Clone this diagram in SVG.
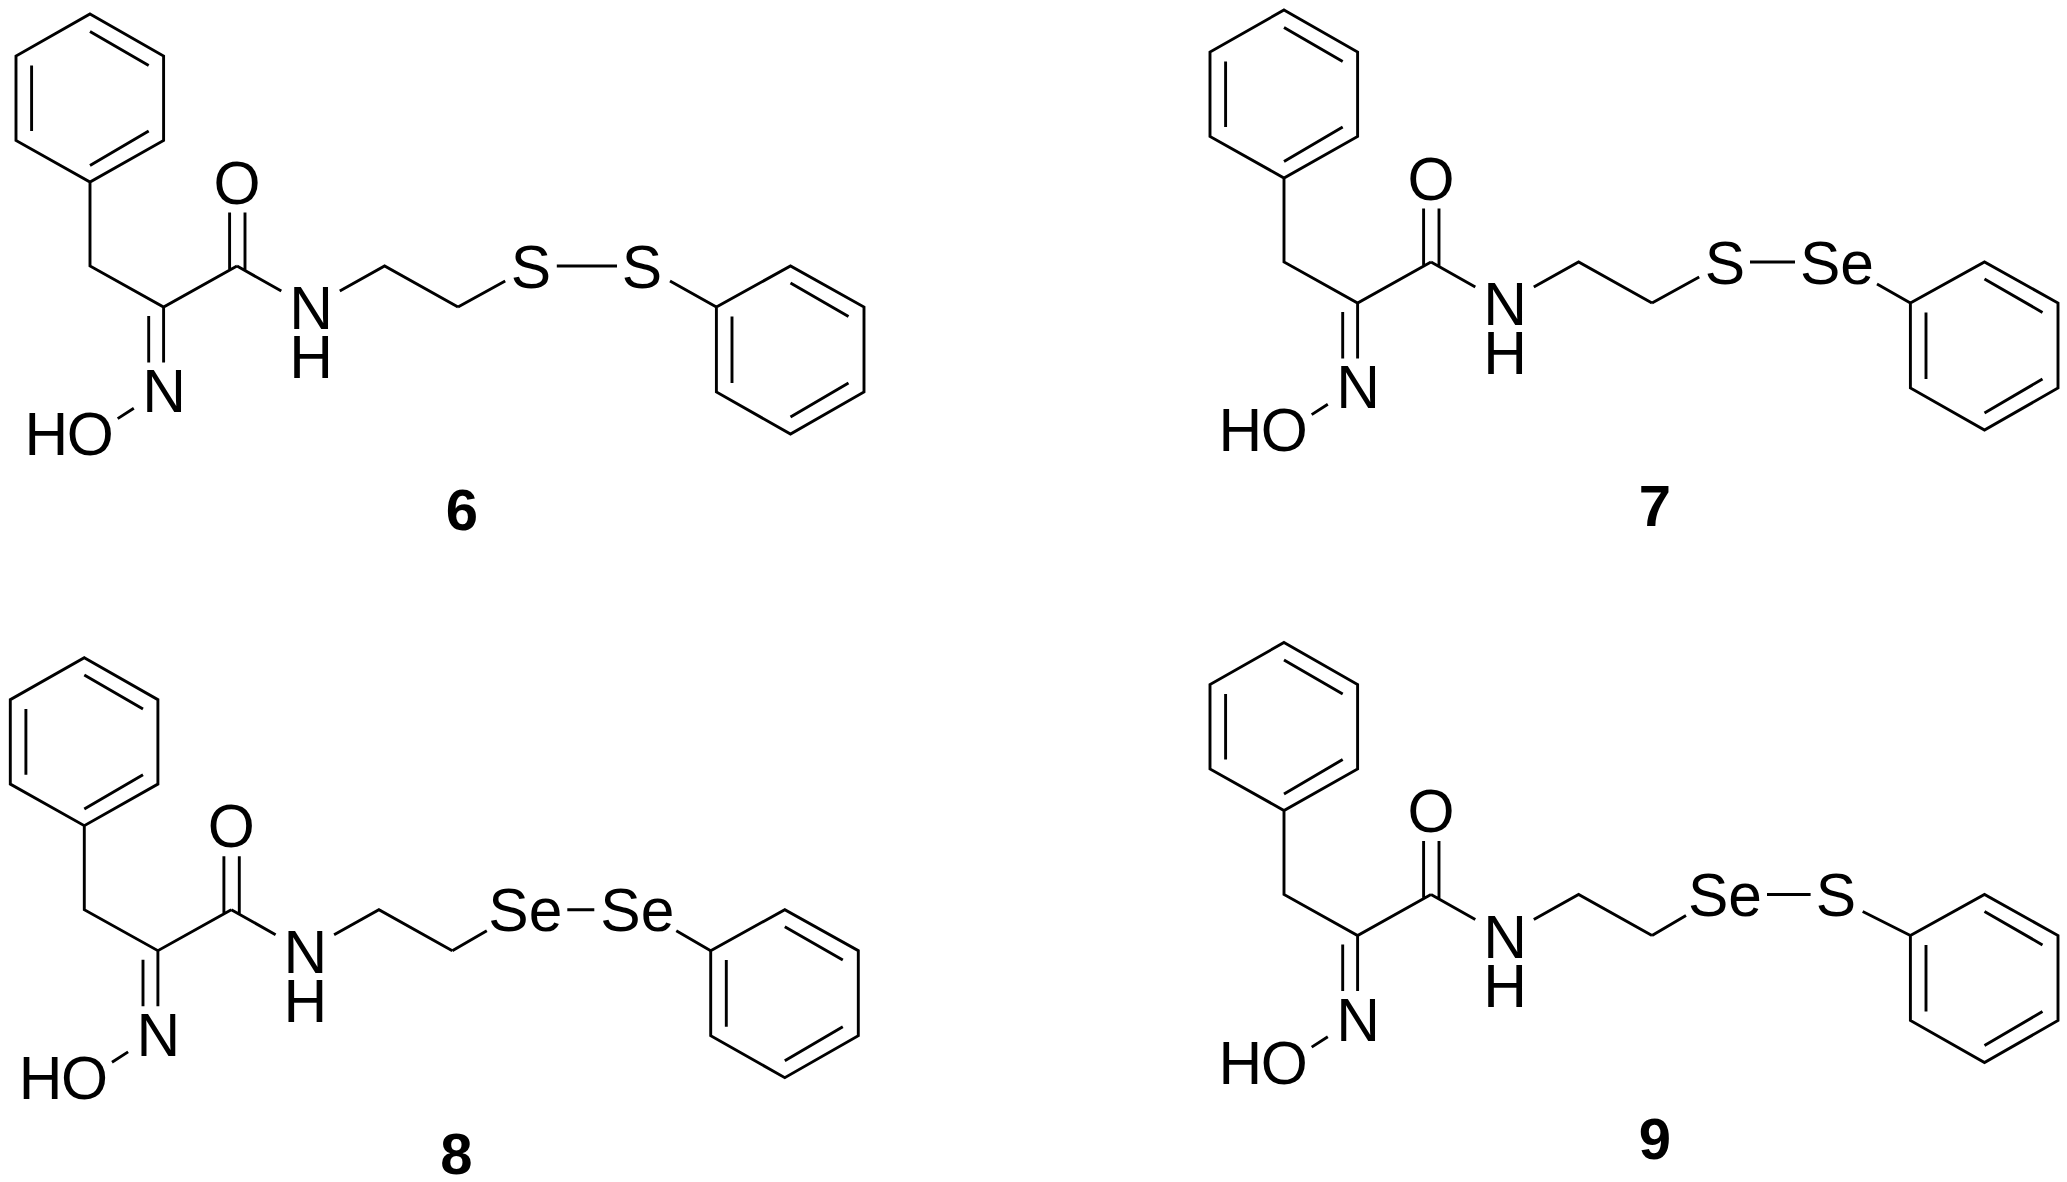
<svg xmlns="http://www.w3.org/2000/svg" xmlns:xlink="http://www.w3.org/1999/xlink" width="2067" height="1182" viewBox="0 0 2067 1182">
<style>
.bg{fill:#fff}
.bond{fill:none;stroke:#000;stroke-width:2.9;stroke-linejoin:miter;stroke-linecap:butt}
text{font-family:"Liberation Sans",Arial,sans-serif;font-size:60.5px;fill:#000}
.atom{text-anchor:middle}
.hydroxy{letter-spacing:-1.5px}
.id{text-anchor:middle;font-weight:bold;font-size:58px}
</style>
<defs>
<path id="scaffold" class="bond" d="M90 14L163.6 56V140.4L90 182L16 140.4V56Z M90 31.4L148.7 65.4 M31.6 65.4V131 M148.7 131L90 165.4 M90 182V266L163.6 307L237 266 M163.6 307V362.5 M148.7 316V362.5 M229.6 212.5V270 M245 212.5V270.5 M117.7 418.6L133.8 408.2 M237 266L281.3 291 M339.8 291L384.6 266L458 307 M716.4 307L790.5 266L864 307V392L790.5 434L716.4 392Z M790.5 283L848.5 316.4 M732 316.4V383 M848.5 383L790.5 417"/>
</defs>
<rect class="bg" width="2067" height="1182"/>
<g id="compound-6">
<g class="connectors"><use href="#scaffold"/><path class="bond" d="M458 307L505.2 281 M556.8 266H617 M670 281L716.4 307"/></g>
<text class="atom" x="237" y="203.5">O</text><text class="atom" x="164" y="412">N</text><text class="hydroxy" x="24.5" y="455">HO</text><text class="atom" x="311" y="329">N</text><text class="atom" x="311" y="378">H</text>
<text class="atom" x="531" y="287.5">S</text><text class="atom" x="642" y="287.5">S</text>
<text class="id" x="462" y="530">6</text>
</g>
<g id="compound-7" transform="translate(1194 -4)">
<g class="connectors"><use href="#scaffold"/><path class="bond" d="M458 307L505.2 281 M556 266H601 M683 288L716.4 307"/></g>
<text class="atom" x="237" y="203.5">O</text><text class="atom" x="164" y="412">N</text><text class="hydroxy" x="24.5" y="455">HO</text><text class="atom" x="311" y="329">N</text><text class="atom" x="311" y="378">H</text>
<text class="atom" x="531" y="287.5">S</text><text class="atom" x="643" y="287.5">Se</text>
<text class="id" x="461" y="530">7</text>
</g>
<g id="compound-8" transform="translate(-5.7 643.7)">
<g class="connectors"><use href="#scaffold"/><path class="bond" d="M458 307L492.5 287 M573 266H600 M682 287L716.4 307"/></g>
<text class="atom" x="237" y="203.5">O</text><text class="atom" x="164" y="412">N</text><text class="hydroxy" x="24.5" y="455">HO</text><text class="atom" x="311" y="329">N</text><text class="atom" x="311" y="378">H</text>
<text class="atom" x="531" y="287.5">Se</text><text class="atom" x="643" y="287.5">Se</text>
<text class="id" x="462" y="530">8</text>
</g>
<g id="compound-9" transform="translate(1194 628.5)">
<g class="connectors"><use href="#scaffold"/><path class="bond" d="M458 307L492 287 M573 266H616.6 M668.7 283L716.4 307"/></g>
<text class="atom" x="237" y="203.5">O</text><text class="atom" x="164" y="412">N</text><text class="hydroxy" x="24.5" y="455">HO</text><text class="atom" x="311" y="329">N</text><text class="atom" x="311" y="378">H</text>
<text class="atom" x="531" y="287.5">Se</text><text class="atom" x="642" y="287.5">S</text>
<text class="id" x="461" y="530">9</text>
</g>
</svg>
